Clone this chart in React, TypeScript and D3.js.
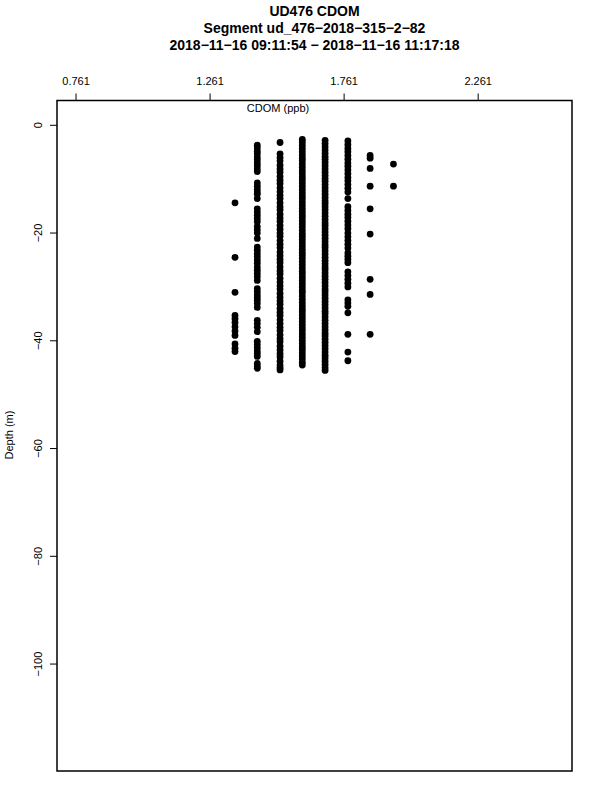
import React from 'react';
import * as d3 from 'd3';

// CDOM is quantized, so every reading falls on one of these levels (ppb)
const cdomLevels = [1.354, 1.437, 1.522, 1.605, 1.69, 1.775, 1.858, 1.945];

const depthAt1354 = [-14.4, -24.5, -31.0, -35.3, -35.9, -36.6, -37.4, -38.2, -39.0, -40.6, -41.4, -42.0];

const depthAt1437 = [
  -3.7, -4.2, -4.8, -5.3, -5.9, -6.4, -7.0, -7.5, -8.1, -8.6,
  -10.7, -11.3, -11.9, -12.4, -12.8, -13.6,
  -15.5, -16.1, -16.7, -17.3, -17.9, -18.8, -19.4, -20.0, -21.0,
  -22.6, -23.2, -23.8, -24.4, -25.0, -25.6, -26.3, -26.9, -27.5, -28.1, -28.8,
  -30.3, -30.9, -31.5, -32.0, -32.5, -33.1, -33.8,
  -36.2, -36.8, -37.5, -38.3,
  -40.1, -40.7, -41.3, -41.9, -42.4, -42.9,
  -44.2, -44.7, -45.1,
];

const depthAt1522 = [
  -3.2, -5.3, -6.0, -6.6, -7.4, -8.1, -8.7, -9.5, -10.2, -10.8, -11.6, -12.3, -13.0,
  -13.6, -14.4, -15.1, -15.7, -16.5, -17.2, -17.8, -18.6, -19.3, -20.0, -20.6,
  -21.4, -22.1, -22.7, -23.5, -24.2, -24.9, -25.5, -26.3, -27.0, -27.6, -28.4,
  -29.1, -29.8, -30.4, -31.2, -31.9, -32.6, -33.2, -34.0, -34.7, -35.3, -36.1,
  -36.8, -37.5, -38.1, -38.9, -39.6, -40.2, -41.0, -41.7, -42.4, -43.0, -43.8,
  -44.5, -45.0, -45.4,
];

const depthAt1605 = [
  -2.6, -3.1, -3.7, -4.3, -4.9, -5.5, -6.1, -6.6, -7.2, -7.8, -8.4, -9.0, -9.6,
  -10.1, -10.7, -11.3, -11.9, -12.5, -13.1, -13.6, -14.2, -14.8, -15.4, -16.0,
  -16.6, -17.1, -17.7, -18.3, -18.9, -19.5, -20.1, -20.6, -21.2, -21.8, -22.4,
  -23.0, -23.6, -24.1, -24.7, -25.3, -25.9, -26.5, -27.1, -27.6, -28.2, -28.8,
  -29.4, -30.0, -30.6, -31.1, -31.7, -32.3, -32.9, -33.5, -34.1, -34.6, -35.2,
  -35.8, -36.4, -37.0, -37.6, -38.1, -38.7, -39.3, -39.9, -40.5, -41.1, -41.6,
  -42.2, -42.8, -43.4, -44.0, -44.5,
];

const depthAt1690 = [
  -2.8, -3.4, -4.0, -4.6, -5.2, -5.8, -6.3, -6.9, -7.5, -8.1, -8.7, -9.3, -9.9,
  -10.4, -11.0, -11.6, -12.2, -12.8, -13.4, -14.0, -14.5, -15.1, -15.7, -16.3,
  -16.9, -17.5, -18.1, -18.6, -19.2, -19.8, -20.4, -21.0, -21.6, -22.2, -22.7,
  -23.3, -23.9, -24.5, -25.1, -25.7, -26.3, -26.8, -27.4, -28.0, -28.6, -29.2,
  -29.8, -30.4, -30.9, -31.5, -32.1, -32.7, -33.3, -33.9, -34.5, -35.0, -35.6,
  -36.2, -36.8, -37.4, -38.0, -38.6, -39.1, -39.7, -40.3, -40.9, -41.5, -42.1,
  -42.7, -43.2, -43.8, -44.4, -45.0, -45.5,
];

const depthAt1775 = [
  -2.9, -3.6, -4.3, -4.9, -5.6, -6.3, -7.0, -7.6, -8.3, -9.0, -9.7, -10.3, -11.0,
  -11.7, -12.4, -13.6,
  -15.1, -15.8, -16.5, -17.1, -17.8, -18.5, -19.2,
  -20.0, -20.7, -21.4, -22.1, -22.8,
  -23.7, -24.3, -24.9, -25.5,
  -27.2, -27.9, -28.6, -29.3, -30.0,
  -32.4, -33.0, -33.6, -34.8, -38.8, -42.1, -43.7,
];

const depthAt1858 = [-5.6, -6.1, -8.0, -11.3, -15.5, -20.2, -28.6, -31.4, -38.8];
const depthAt1945 = [-7.2, -11.3];

const depthByLevel = [
  depthAt1354, depthAt1437, depthAt1522, depthAt1605,
  depthAt1690, depthAt1775, depthAt1858, depthAt1945,
];

const xTicks = [0.761, 1.261, 1.761, 2.261];
const yTicks = [0, -20, -40, -60, -80, -100];

// R draws the hyphens as minus signs
const titleLines = [
  'UD476 CDOM',
  'Segment ud_476\u22122018\u2212315\u22122\u221282',
  '2018\u221211\u221216 09:11:54 \u2212 2018\u221211\u221216 11:17:18',
];

const W = 600;
const H = 800;
const left = 57;
const right = 572;
const top = 100.5;
const bottom = 771;
const font = 'Liberation Sans, Arial, Helvetica, sans-serif';

const App = () => {
  const x = d3.scaleLinear().domain([0.69, 2.611]).range([left, right]);
  const y = d3.scaleLinear().domain([4.6, -119.85]).range([top, bottom]);

  const points = cdomLevels.flatMap((c, i) =>
    depthByLevel[i].map((d) => ({ c, d }))
  );

  return (
    <svg
      width={W}
      height={H}
      style={{ position: 'absolute', left: 0, top: 0, background: '#fff' }}
      fontFamily={font}
    >
      <rect x={0} y={0} width={W} height={H} fill="#fff" />

      {titleLines.map((t, i) => (
        <text
          key={i}
          x={(left + right) / 2}
          y={16 + i * 17}
          textAnchor="middle"
          fontSize={14}
          fontWeight="bold"
        >
          {t}
        </text>
      ))}

      {/* top axis */}
      {xTicks.map((t) => (
        <g key={t} transform={`translate(${x(t)},0)`}>
          <line y1={top} y2={top - 7} stroke="#000" />
          <text y={85} textAnchor="middle" fontSize={11}>
            {t.toFixed(3)}
          </text>
        </g>
      ))}

      {/* left axis */}
      {yTicks.map((t) => (
        <g key={t} transform={`translate(0,${y(t)})`}>
          <line x1={left} x2={left - 7} stroke="#000" />
          <text
            transform={`translate(42,0) rotate(-90)`}
            textAnchor="middle"
            fontSize={11}
          >
            {t === 0 ? '0' : '\u2212' + Math.abs(t)}
          </text>
        </g>
      ))}

      <text x={278} y={112} textAnchor="middle" fontSize={11}>
        CDOM (ppb)
      </text>
      <text
        transform={`translate(13,435) rotate(-90)`}
        textAnchor="middle"
        fontSize={11}
      >
        Depth (m)
      </text>

      <g>
        {points.map((p, i) => (
          <circle key={i} cx={x(p.c)} cy={y(p.d)} r={3.4} fill="#000" />
        ))}
      </g>

      <rect
        x={left}
        y={top}
        width={right - left}
        height={bottom - top}
        fill="none"
        stroke="#000"
        strokeWidth={1.5}
      />
    </svg>
  );
};

export default App;
